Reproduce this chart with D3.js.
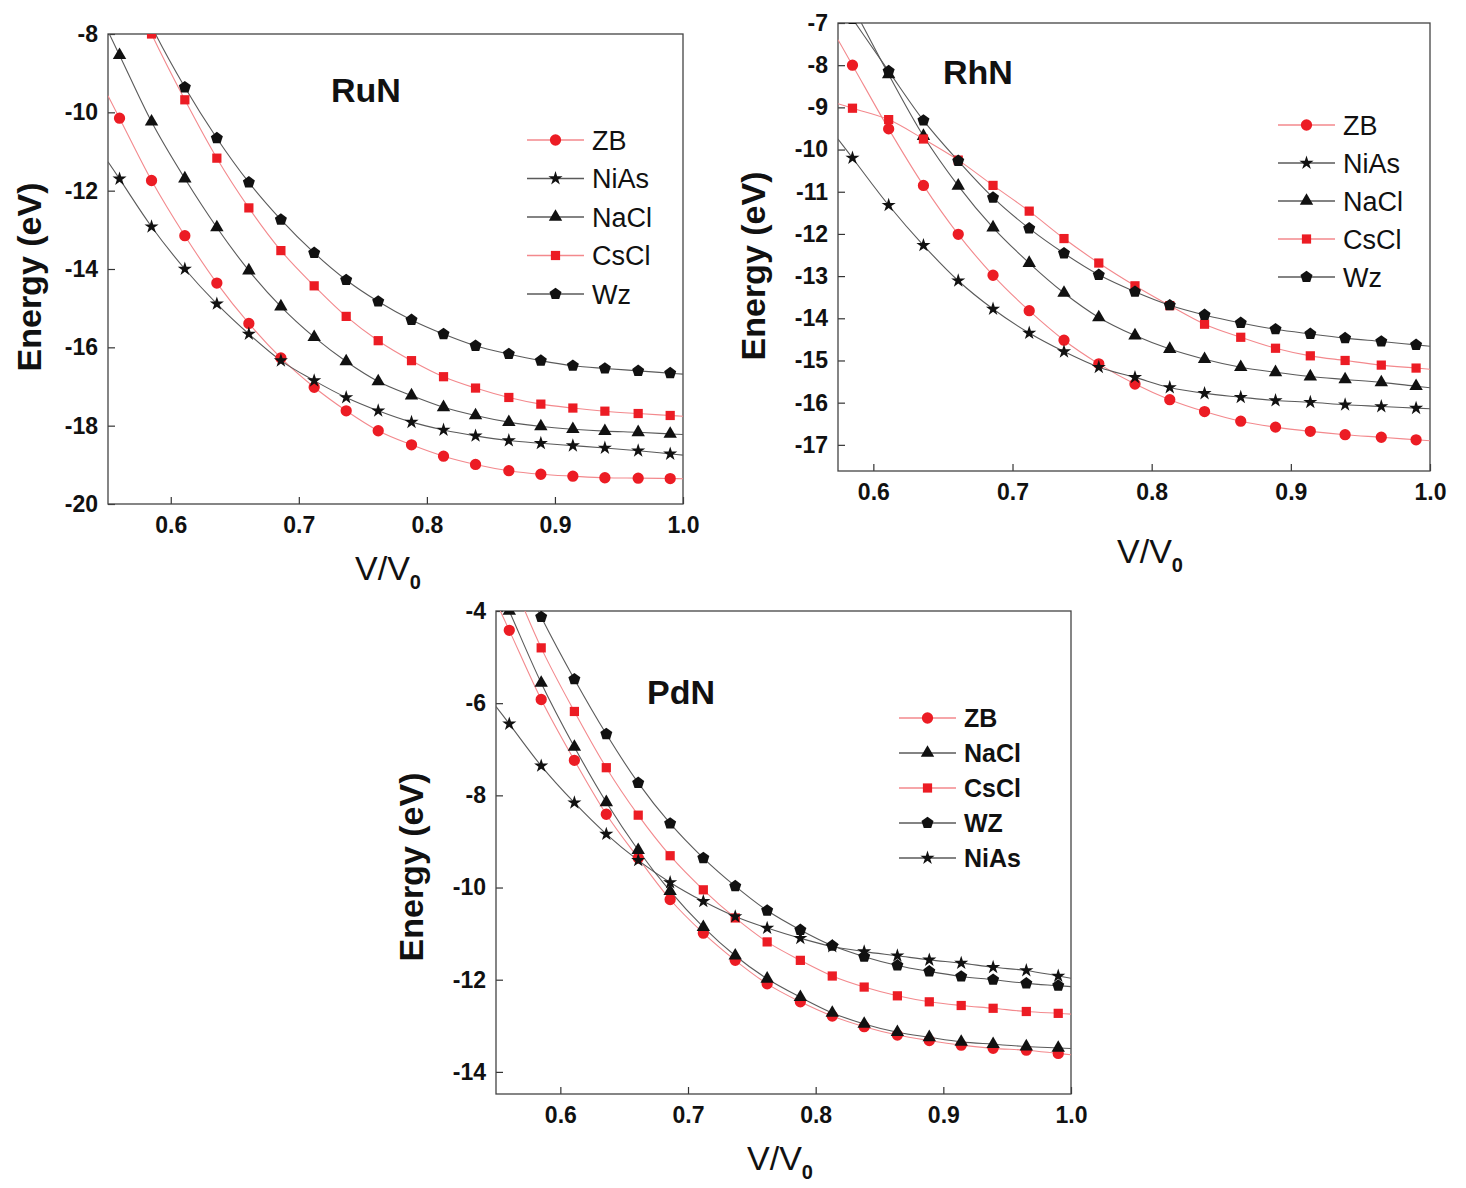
<!DOCTYPE html>
<html><head><meta charset="utf-8">
<script src="https://cdn.jsdelivr.net/npm/d3@7"></script>
<style>
body{margin:0;background:#fff}
text{font-family:"Liberation Sans",Arial,Helvetica,sans-serif;fill:#111}
</style>
</head><body>
<svg id="c" width="1466" height="1188"></svg>
<script>
// ---- data ----
const vRatio = [0.560,0.585,0.611,0.636,0.661,0.686,0.712,0.737,0.762,0.788,0.813,0.838,0.864,0.889,0.914,0.939,0.965,0.990];

const runZB   = [-10.15,-11.74,-13.15,-14.36,-15.39,-16.27,-17.02,-17.62,-18.13,-18.49,-18.78,-18.99,-19.15,-19.24,-19.29,-19.33,-19.34,-19.35];
const runNiAs = [-11.70,-12.92,-14.00,-14.89,-15.66,-16.34,-16.85,-17.28,-17.62,-17.91,-18.11,-18.26,-18.38,-18.45,-18.51,-18.57,-18.64,-18.72];
const runNaCl = [-8.54,-10.24,-11.69,-12.94,-14.04,-14.96,-15.74,-16.36,-16.87,-17.23,-17.53,-17.74,-17.91,-18.02,-18.09,-18.14,-18.17,-18.21];
const runCsCl = [-6.2,-8.0,-9.68,-11.17,-12.44,-13.53,-14.43,-15.21,-15.83,-16.34,-16.75,-17.04,-17.28,-17.45,-17.55,-17.63,-17.69,-17.74];
const runWz   = [-6.0,-7.8,-9.36,-10.66,-11.79,-12.74,-13.59,-14.28,-14.83,-15.30,-15.66,-15.96,-16.17,-16.34,-16.47,-16.54,-16.60,-16.66];

const rhnZB   = [null,-8.0,-9.51,-10.85,-12.01,-12.98,-13.82,-14.52,-15.08,-15.56,-15.93,-16.21,-16.44,-16.58,-16.68,-16.76,-16.82,-16.88];
const rhnNiAs = [null,-10.2,-11.32,-12.27,-13.11,-13.78,-14.35,-14.79,-15.16,-15.40,-15.64,-15.78,-15.87,-15.95,-15.99,-16.05,-16.09,-16.13];
const rhnNaCl = [null,-6.6,-8.22,-9.68,-10.86,-11.85,-12.69,-13.40,-13.98,-14.41,-14.73,-14.97,-15.16,-15.28,-15.38,-15.45,-15.52,-15.61];
const rhnCsCl = [null,-9.02,-9.29,-9.75,-10.25,-10.85,-11.46,-12.11,-12.69,-13.23,-13.70,-14.14,-14.45,-14.71,-14.89,-15.00,-15.11,-15.18];
const rhnWz   = [null,-6.9,-8.14,-9.31,-10.27,-11.14,-11.87,-12.46,-12.97,-13.37,-13.69,-13.92,-14.11,-14.26,-14.37,-14.47,-14.55,-14.63];

const pdnZB   = [-4.42,-5.92,-7.24,-8.41,-9.36,-10.26,-10.99,-11.58,-12.09,-12.48,-12.79,-13.02,-13.20,-13.32,-13.42,-13.49,-13.53,-13.60];
const pdnNaCl = [-4.0,-5.56,-6.95,-8.15,-9.19,-10.08,-10.86,-11.48,-11.98,-12.38,-12.72,-12.96,-13.14,-13.25,-13.35,-13.40,-13.45,-13.48];
const pdnCsCl = [-3.2,-4.80,-6.18,-7.40,-8.43,-9.31,-10.05,-10.66,-11.18,-11.58,-11.92,-12.16,-12.35,-12.48,-12.56,-12.62,-12.69,-12.73];
const pdnWz   = [-2.7,-4.13,-5.48,-6.67,-7.73,-8.61,-9.36,-9.97,-10.50,-10.92,-11.26,-11.50,-11.69,-11.82,-11.93,-12.00,-12.08,-12.13];
const pdnNiAs = [-6.45,-7.36,-8.16,-8.84,-9.41,-9.89,-10.30,-10.63,-10.88,-11.10,-11.28,-11.39,-11.48,-11.57,-11.64,-11.73,-11.80,-11.92];

const xTicks = [0.6,0.7,0.8,0.9,1.0];
const runYTicks = [-20,-18,-16,-14,-12,-10,-8];
const rhnYTicks = [-17,-16,-15,-14,-13,-12,-11,-10,-9,-8,-7];
const pdnYTicks = [-14,-12,-10,-8,-6,-4];

const runOrder = ["ZB","NiAs","NaCl","CsCl","Wz"];
const rhnOrder = ["ZB","NiAs","NaCl","CsCl","Wz"];
const pdnOrder = ["ZB","NaCl","CsCl","WZ","NiAs"];

// ---- styles ----
const pentagon = {
  draw(ctx, size) {
    const r = Math.sqrt(size / (2.5 * Math.sin(2 * Math.PI / 5)));
    for (let i = 0; i < 5; i++) {
      const a = -Math.PI / 2 + i * 2 * Math.PI / 5;
      const x = r * Math.cos(a), y = r * Math.sin(a);
      if (i === 0) ctx.moveTo(x, y); else ctx.lineTo(x, y);
    }
    ctx.closePath();
  }
};
const RED = "#ec1c24", REDLINE = "#f3898d", BLK = "#111", BLKLINE = "#5a5a5a";
const style = {
  ZB:   {type: d3.symbolCircle,   size: 100, fill: RED, line: REDLINE},
  NiAs: {type: d3.symbolStar,     size: 62, fill: BLK, line: BLKLINE},
  NaCl: {type: d3.symbolTriangle, size: 78, fill: BLK, line: BLKLINE},
  CsCl: {type: d3.symbolSquare,   size: 85, fill: RED, line: REDLINE},
  Wz:   {type: pentagon,          size: 95, fill: BLK, line: BLKLINE},
  WZ:   {type: pentagon,          size: 95, fill: BLK, line: BLKLINE}
};

const panels = [
  {id:"run", title:"RuN", L:108, R:683, T:34, B:504, xd:[0.551,1.0], yd:[-20,-8], yt:runYTicks,
   series:{ZB:runZB,NiAs:runNiAs,NaCl:runNaCl,CsCl:runCsCl,Wz:runWz}, order:runOrder,
   tx:366, ty:102, leg:{x:527, y:140, dy:38.5, fs:27, fw:"normal"}, ylx:29, yly:277, xlx:388, xly:580},
  {id:"rhn", title:"RhN", L:838, R:1430, T:23, B:471, xd:[0.5746,1.0], yd:[-17.62,-7], yt:rhnYTicks,
   series:{ZB:rhnZB,NiAs:rhnNiAs,NaCl:rhnNaCl,CsCl:rhnCsCl,Wz:rhnWz}, order:rhnOrder,
   tx:978, ty:84, leg:{x:1278, y:125, dy:38, fs:27, fw:"normal"}, ylx:753, yly:266, xlx:1150, xly:563},
  {id:"pdn", title:"PdN", L:496, R:1071, T:611, B:1094, xd:[0.5496,1.0], yd:[-14.48,-4], yt:pdnYTicks,
   series:{ZB:pdnZB,NaCl:pdnNaCl,CsCl:pdnCsCl,WZ:pdnWz,NiAs:pdnNiAs}, order:pdnOrder,
   tx:681, ty:704, leg:{x:899, y:718, dy:35, fs:25, fw:"bold"}, ylx:411, yly:867, xlx:780, xly:1170}
];

const svg = d3.select("#c");

panels.forEach(p => {
  const x = d3.scaleLinear().domain(p.xd).range([p.L, p.R]);
  const y = d3.scaleLinear().domain(p.yd).range([p.B, p.T]);
  const g = svg.append("g");

  g.append("clipPath").attr("id", "clip-" + p.id)
    .append("rect").attr("x", p.L).attr("y", p.T).attr("width", p.R - p.L).attr("height", p.B - p.T);

  // axes
  const xa = d3.axisBottom(x).tickValues(xTicks).tickSize(-7).tickPadding(13).tickFormat(d => d.toFixed(1));
  const ya = d3.axisLeft(y).tickValues(p.yt).tickSize(-7).tickPadding(10).tickFormat(d => String(d));
  const gx = g.append("g").attr("transform", `translate(0,${p.B})`).call(xa);
  const gy = g.append("g").attr("transform", `translate(${p.L},0)`).call(ya);
  [gx, gy].forEach(a => {
    a.select(".domain").remove();
    a.selectAll(".tick line").attr("stroke", "#333").attr("stroke-width", 1.2);
    a.selectAll(".tick text").style("font-size", "23px").style("font-weight", "bold")
      .style("font-family", '"Liberation Sans",Arial,sans-serif').attr("fill", "#111");
  });
  gx.selectAll(".tick text").attr("dy", "0.68em");

  // frame
  g.append("rect").attr("x", p.L).attr("y", p.T).attr("width", p.R - p.L).attr("height", p.B - p.T)
    .attr("fill", "none").attr("stroke", "#444").attr("stroke-width", 1.3);

  const plot = g.append("g").attr("clip-path", `url(#clip-${p.id})`);
  const line = d3.line().x(d => x(d[0])).y(d => y(d[1])).curve(d3.curveMonotoneX);

  const order = p.order;
  order.forEach(name => {
    const vals = p.series[name];
    const pts = vRatio.map((v, i) => [v, vals[i]]).filter(d => d[1] !== null);
    // extend the fitted curve to the plot edges along the end slopes
    const a0 = pts[0], a1 = pts[1], n = pts.length, b0 = pts[n - 2], b1 = pts[n - 1];
    const sL = (a1[1] - a0[1]) / (a1[0] - a0[0]);
    const sR = (b1[1] - b0[1]) / (b1[0] - b0[0]);
    const ext = [[p.xd[0], a0[1] + sL * (p.xd[0] - a0[0])], ...pts, [p.xd[1], b1[1] + sR * (p.xd[1] - b1[0])]];
    plot.append("path").datum(ext).attr("d", line).attr("fill", "none")
      .attr("stroke", style[name].line).attr("stroke-width", 1.1);
  });
  order.forEach(name => {
    const vals = p.series[name];
    const pts = vRatio.map((v, i) => [v, vals[i]]).filter(d => d[1] !== null);
    const st = style[name];
    plot.selectAll(null).data(pts).enter().append("path")
      .attr("d", d3.symbol().type(st.type).size(st.size))
      .attr("transform", d => `translate(${x(d[0])},${y(d[1])})`)
      .attr("fill", st.fill);
  });

  // title
  g.append("text").attr("x", p.tx).attr("y", p.ty).attr("text-anchor", "middle")
    .style("font-size", "34px").style("font-weight", "bold").text(p.title);

  // legend
  order.forEach((name, i) => {
    const st = style[name];
    const ly = p.leg.y + i * p.leg.dy;
    g.append("line").attr("x1", p.leg.x).attr("x2", p.leg.x + 57).attr("y1", ly).attr("y2", ly)
      .attr("stroke", st.line).attr("stroke-width", 1.3);
    g.append("path").attr("d", d3.symbol().type(st.type).size(st.size)())
      .attr("transform", `translate(${p.leg.x + 28.5},${ly})`).attr("fill", st.fill);
    g.append("text").attr("x", p.leg.x + 65).attr("y", ly).attr("dy", "0.36em")
      .style("font-size", p.leg.fs + "px").style("font-weight", p.leg.fw).text(name);
  });

  // axis titles
  g.append("text").attr("transform", `translate(${p.ylx},${p.yly}) rotate(-90)`)
    .attr("text-anchor", "middle").attr("dy", "0.35em")
    .style("font-size", "34px").style("font-weight", "bold").text("Energy (eV)");
  const xt = g.append("text").attr("x", p.xlx).attr("y", p.xly).attr("text-anchor", "middle")
    .style("font-size", "34px").style("font-weight", "normal");
  xt.append("tspan").text("V/V");
  xt.append("tspan").attr("dy", 9).style("font-size", "20px").style("font-weight", "bold").text("0");
});
</script>
</body></html>
